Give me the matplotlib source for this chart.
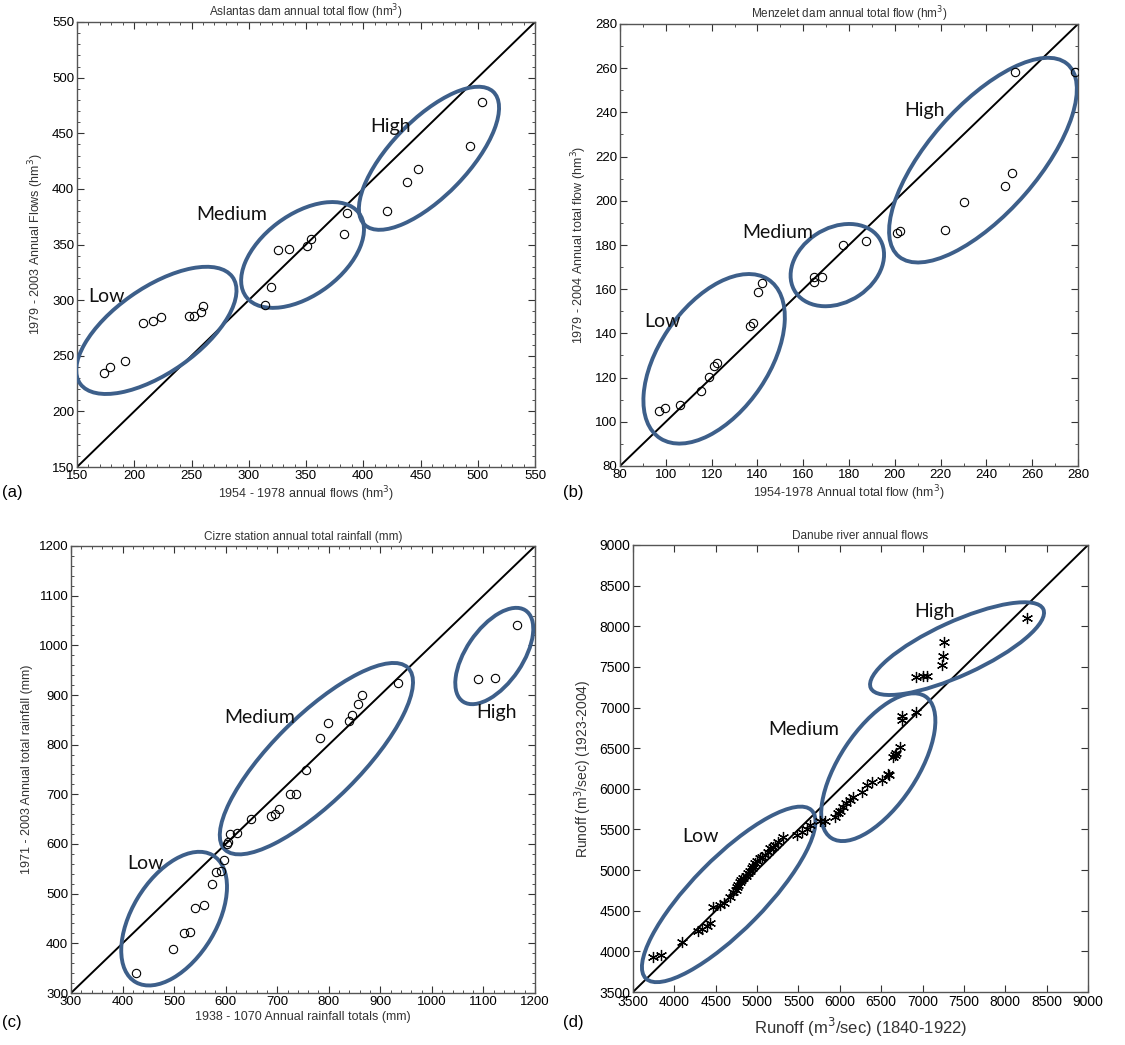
import matplotlib
matplotlib.use("Agg")
import matplotlib.pyplot as plt
from matplotlib import font_manager
from matplotlib.patches import Ellipse
from matplotlib.ticker import MultipleLocator

# ---- data ----
# (a) Aslantas dam
a_x = [174, 179, 192, 208, 216, 223, 248, 252, 258, 260,
       314.6, 319, 325.7, 335, 350.8, 354, 382.8, 385.7,
       421, 438.5, 448, 493.6, 503.7]
a_y = [234.5, 240, 245, 279, 281, 285, 285.5, 286, 289, 295,
       295.9, 311.5, 345.4, 346.3, 348.7, 355, 359.7, 378.6,
       380.4, 406, 417.6, 438.8, 477.8]

# (b) Menzelet dam
b_x = [97.1, 99.5, 106.4, 115.3, 118.8, 121, 122.4, 136.9, 138.1, 140.3, 142.1,
       164.7, 164.9, 168.4, 177.3, 187.4,
       200.8, 202.2, 221.8, 230, 248.3, 251, 252.4, 278.6]
b_y = [104.9, 106.3, 107.8, 114.1, 120.2, 125.3, 126.7, 143.4, 144.5, 158.7, 162.6,
       165.4, 163.4, 165.4, 180, 182,
       185.6, 186.5, 186.8, 199.5, 206.9, 212.8, 258.2, 258.4]

# (c) Cizre station
c_x = [426, 497, 518.5, 530, 540.7, 558, 572.8, 581, 591, 597,
       602.7, 604, 608, 621.5, 650, 687.6, 695, 703, 724.5, 735.6, 755.8,
       783.6, 798, 839, 845, 856, 864.4, 934.7,
       1089, 1122.5, 1165]
c_y = [340, 388.6, 420, 423.5, 471.8, 476.5, 520, 544, 545, 568.5,
       600, 605, 620.8, 622, 649.7, 655.7, 660, 670, 700.7, 701.3, 749.7,
       812.8, 844.3, 847, 860.4, 882, 900, 923.5,
       933, 934, 1040]

# (d) Danube river
d_x = [3740, 3835, 4089, 4290, 4330, 4391, 4431, 4471, 4552, 4600,
       4673, 4713, 4740, 4754, 4770, 4794, 4810, 4834, 4860, 4894,
       4915, 4934, 4955, 4975, 5000, 5035, 5060, 5096, 5130, 5156,
       5190, 5216, 5257, 5317, 5478, 5539, 5599, 5640, 5760, 5821,
       5942, 5982, 6000, 6043, 6080, 6123, 6164, 6264, 6325, 6385,
       6506, 6587, 6600, 6647, 6667, 6680, 6727, 6748, 6750, 6921,
       6921, 7010, 7050, 7232, 7244, 7263, 8259]
d_y = [3925, 3955, 4120, 4245, 4270, 4316, 4345, 4540, 4575, 4600,
       4672, 4733, 4760, 4796, 4820, 4857, 4875, 4898, 4930, 4961,
       4990, 5022, 5050, 5092, 5110, 5145, 5165, 5186, 5220, 5268,
       5290, 5309, 5350, 5411, 5432, 5470, 5510, 5555, 5600, 5600,
       5650, 5700, 5730, 5780, 5820, 5862, 5903, 5965, 6047, 6088,
       6108, 6182, 6170, 6395, 6420, 6436, 6518, 6847, 6890, 6949,
       7380, 7388, 7388, 7523, 7634, 7810, 8098]

groups = ["Low", "Medium", "High"]

# ellipse (cx, cy, semi-major, semi-minor, angle) and label anchor, per panel
a_ellipses = [(219.3, 272.8, 82, 38, 36), (347, 340.6, 62, 36, 38), (457.4, 427.5, 82, 34, 47)]
a_labels = [(176, 303), (285.5, 377), (424, 456)]
b_ellipses = [(121.1, 128.5, 43, 24, 57), (174.9, 170.9, 22, 16.7, 35), (238.5, 218.4, 57, 24, 50)]
b_labels = [(98.7, 145.3), (148.7, 185.7), (212.9, 240.7)]
c_ellipses = [(500, 449.7, 148, 82, 60), (776, 771.8, 255, 85, 46), (1121, 978.5, 110, 55, 57)]
c_labels = [(445.4, 560.4), (666.7, 855.7), (1126, 864.4)]
d_ellipses = [(4657, 4701, 1440, 440, 46), (6465, 6266, 1040, 470, 57), (7417, 7725, 1150, 330, 25)]
d_labels = [(4317, 5414), (5566, 6725), (7142, 8180)]

ELLIPSE_COLOR = "#3d5f8a"
W, H = 1125, 1045


def have_font(name):
    try:
        font_manager.findfont(font_manager.FontProperties(family=name), fallback_to_default=False)
        return True
    except Exception:
        return False


plt.rcParams["font.family"] = ["Liberation Sans", "DejaVu Sans"]
if have_font("Liberation Sans Narrow"):
    narrow = ["Liberation Sans Narrow", "DejaVu Sans"]
    narrow_fs = 11
else:
    narrow = ["Liberation Sans", "DejaVu Sans"]
    narrow_fs = 10

fig = plt.figure(figsize=(W / 100, H / 100), dpi=100)


def add_box(left, right, top, bottom):
    return fig.add_axes([left / W, 1 - bottom / H, (right - left) / W, (bottom - top) / H])


def setup(ax, lim, major, minor, title, xlabel, ylabel, font=None, fs=9.5):
    ax.set_xlim(lim)
    ax.set_ylim(lim)
    ax.plot(lim, lim, color="black", lw=1.4, zorder=2)
    ax.xaxis.set_major_locator(MultipleLocator(major))
    ax.yaxis.set_major_locator(MultipleLocator(major))
    if minor:
        ax.xaxis.set_minor_locator(MultipleLocator(minor))
        ax.yaxis.set_minor_locator(MultipleLocator(minor))
    ax.tick_params(which="both", direction="in", top=True, right=True, color="#333333",
                   labelsize=fs, pad=2)
    ax.tick_params(which="major", length=5)
    ax.tick_params(which="minor", length=2.5)
    for s in ax.spines.values():
        s.set_color("#555555")
        s.set_linewidth(1.0)
    kw = {}
    if font:
        kw = dict(family=font)
        for lab in ax.get_xticklabels() + ax.get_yticklabels():
            lab.set_family(font)
    ax.set_title(title, fontsize=8.5, color="#333333", pad=4)
    ax.set_xlabel(xlabel, fontsize=9, color="#333333", labelpad=2, **kw)
    ax.set_ylabel(ylabel, fontsize=9, color="#333333", labelpad=4, **kw)


def groups_draw(ax, ellipses, labels):
    for (cx, cy, a, b, ang), (lx, ly), name in zip(ellipses, labels, groups):
        ax.add_patch(Ellipse((cx, cy), 2 * a, 2 * b, angle=ang, fill=False,
                             ec=ELLIPSE_COLOR, lw=2.8, zorder=3))
        ax.text(lx, ly, name, fontsize=14, family=["Lato", "DejaVu Sans"],
                ha="center", va="center", color="#111111", zorder=4)


# (a)
ax_a = add_box(77, 535, 22, 467)
setup(ax_a, (150, 550), 50, 10, "Aslantas dam annual total flow (hm$^3$)",
      "1954 - 1978 annual flows (hm$^3$)", "1979 - 2003 Annual Flows (hm$^3$)")
ax_a.plot(a_x, a_y, "o", mfc="none", mec="black", ms=6, mew=0.8, zorder=5)
groups_draw(ax_a, a_ellipses, a_labels)

# (b)
ax_b = add_box(620, 1078, 24, 466)
setup(ax_b, (80, 280), 20, 10, "Menzelet dam annual total flow (hm$^3$)",
      "1954-1978 Annual total flow (hm$^3$)", "1979 - 2004 Annual total flow (hm$^3$)")
ax_b.plot(b_x, b_y, "o", mfc="none", mec="black", ms=6, mew=0.8, zorder=5)
groups_draw(ax_b, b_ellipses, b_labels)

# (c)
ax_c = add_box(71, 535, 546, 993)
setup(ax_c, (300, 1200), 100, 20, "Cizre station annual total rainfall (mm)",
      "1938 - 1070 Annual rainfall totals (mm)", "1971 - 2003 Annual total rainfall (mm)")
ax_c.plot(c_x, c_y, "o", mfc="none", mec="black", ms=6, mew=0.8, zorder=5)
groups_draw(ax_c, c_ellipses, c_labels)

# (d)
ax_d = add_box(633, 1088, 545, 992)
setup(ax_d, (3500, 9000), 500, None, "Danube river annual flows",
      "Runoff (m$^3$/sec) (1840-1922)", "Runoff (m$^3$/sec) (1923-2004)",
      font=narrow, fs=narrow_fs)
ax_d.xaxis.label.set_size(12)
ax_d.xaxis.labelpad = 5
ax_d.yaxis.label.set_size(10)
ax_d.plot(d_x, d_y, ls="none", marker=(6, 2, 0), color="black", ms=8, mew=0.9, zorder=5)
groups_draw(ax_d, d_ellipses, d_labels)

# panel letters
for (x, y), s in zip([(2, 492), (563, 492), (2, 1022), (563, 1022)], ["(a)", "(b)", "(c)", "(d)"]):
    fig.text(x / W, 1 - y / H, s, fontsize=12, ha="left", va="center", color="black")

fig.savefig("out.png", dpi=100, facecolor="white")
